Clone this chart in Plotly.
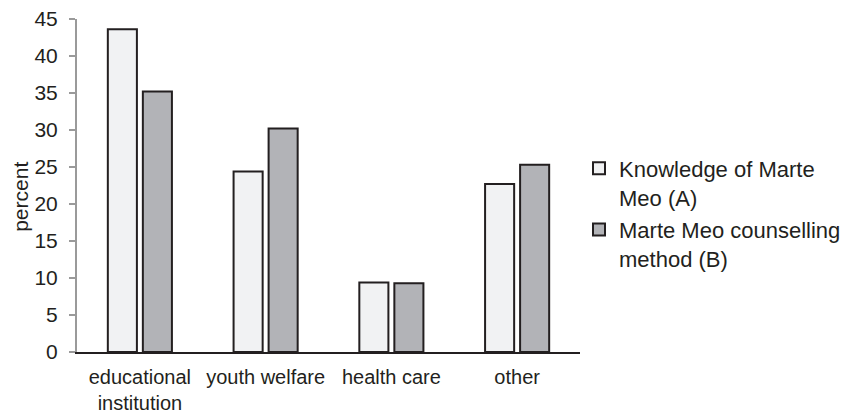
import plotly.graph_objects as go

categories = ["educational<br>institution", "youth welfare", "health care", "other"]
knowledge_a = [43.6, 24.4, 9.4, 22.7]
counselling_b = [35.2, 30.2, 9.3, 25.3]
series_names = ["Knowledge of Marte<br>Meo (A)", "Marte Meo counselling<br>method (B)"]
y_ticks = [0, 5, 10, 15, 20, 25, 30, 35, 40, 45]

FONT = "Liberation Sans, Arial, Helvetica, sans-serif"
TEXT = "#231f20"
EDGE = "#231f20"
SIZE = 21

fig = go.Figure()
fig.add_trace(go.Bar(
    x=categories, y=knowledge_a, name=series_names[0], legendgroup="a",
    marker=dict(color="#f1f2f3", line=dict(color=EDGE, width=2)),
))
fig.add_trace(go.Bar(
    x=categories, y=counselling_b, name=series_names[1], legendgroup="b",
    marker=dict(color="#b2b3b7", line=dict(color=EDGE, width=2)),
))

fig.update_layout(
    width=853, height=415,
    margin=dict(l=77, r=273, t=19, b=63, autoexpand=False),
    paper_bgcolor="white", plot_bgcolor="white",
    barmode="group", bargap=0.443, bargroupgap=0.17,
    font=dict(family=FONT, size=SIZE, color=TEXT),
    showlegend=True,
    legend=dict(
        x=0.998, xanchor="left", y=0.614, yanchor="top",
        valign="top",
        font=dict(family=FONT, size=22, color=TEXT),
        tracegroupgap=1, bgcolor="rgba(0,0,0,0)",
    ),
    xaxis=dict(
        showline=True, linecolor=EDGE, linewidth=2,
        showgrid=False, ticks="", tickfont=dict(size=20),
        ticklabelstandoff=6,
        zeroline=False, automargin=False,
    ),
    yaxis=dict(
        range=[0, 45], tickvals=y_ticks,
        showline=True, linecolor="#9a9a9a", linewidth=2,
        ticks="outside", ticklen=6, tickcolor="#9a9a9a", tickwidth=2,
        ticklabelstandoff=7, automargin=False,
        showgrid=False, zeroline=False, tickfont=dict(size=SIZE),
    ),
    annotations=[dict(
        text="percent", textangle=-90, showarrow=False,
        xref="paper", yref="paper", x=-0.114, y=0.465,
        xanchor="center", yanchor="middle",
        font=dict(family=FONT, size=SIZE, color=TEXT),
    )],
)

fig.write_html("out.html")
